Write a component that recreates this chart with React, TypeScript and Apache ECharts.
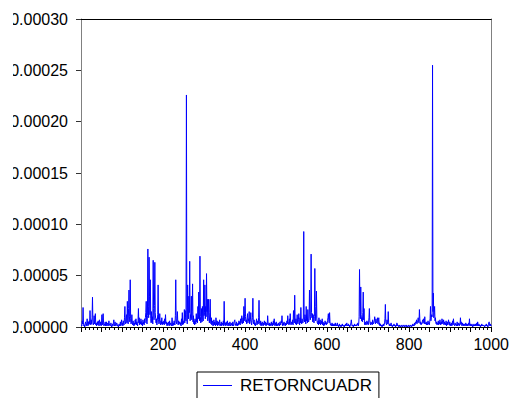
import React, { useEffect, useRef } from "react";
import * as echarts from "echarts";

// Series name and values (squared returns, in units of 1e-6)
const SERIES_NAME = "RETORNCUADR";
const UNIT = 1e-6;

const obs001to200 = [
  2, 1, 6, 3, 19, 4, 1, 2, 0, 3, 5, 2, 1, 4, 8, 3, 1, 5, 2, 6,
  3, 16, 4, 2, 7, 3, 9, 29, 5, 2, 4, 11, 3, 6, 13, 2, 4, 1, 3, 5,
  2, 6, 3, 1, 7, 4, 2, 5, 1, 3, 12, 2, 6, 13, 4, 1, 3, 2, 5, 1,
  2, 5, 1, 3, 4, 1, 2, 6, 3, 3, 1, 2, 4, 1, 0, 2, 3, 1, 4, 7,
  2, 1, 5, 3, 1, 2, 4, 3, 1, 2, 0, 1, 3, 1, 2, 5, 1, 3, 7, 2,
  4, 1, 6, 3, 2, 9, 20, 5, 3, 8, 12, 4, 25, 6, 3, 18, 36, 10, 5, 46,
  8, 3, 5, 12, 4, 2, 6, 3, 1, 4, 2, 7, 3, 8, 2, 5, 3, 1, 6, 18,
  4, 9, 2, 5, 3, 8, 6, 2, 4, 1, 7, 3, 5, 2, 8, 4, 9, 14, 25, 5,
  3, 11, 76, 20, 9, 68, 30, 12, 46, 8, 4, 15, 5, 10, 3, 65, 18, 7, 21, 63,
  14, 8, 4, 8, 2, 6, 12, 41, 7, 3, 5, 13, 4, 2, 6, 3, 9, 2, 5, 4,
];
const obs201to400 = [
  3, 6, 2, 8, 4, 12, 3, 5, 2, 1, 4, 2, 5, 3, 1, 6, 2, 3, 4, 1,
  2, 9, 3, 1, 4, 2, 6, 3, 2, 11, 46, 5, 3, 8, 15, 4, 2, 6, 3, 3,
  5, 2, 4, 1, 8, 3, 14, 2, 6, 3, 5, 17, 4, 16, 9, 6, 226, 12, 3, 41,
  10, 8, 30, 14, 64, 6, 12, 9, 30, 7, 15, 42, 5, 11, 3, 6, 2, 8, 4, 3,
  13, 5, 9, 4, 20, 8, 34, 12, 6, 69, 10, 4, 7, 18, 5, 20, 9, 6, 46, 11,
  14, 41, 8, 20, 10, 52, 15, 27, 6, 11, 27, 8, 4, 14, 27, 5, 3, 9, 2, 6,
  4, 1, 3, 7, 2, 5, 3, 1, 9, 4, 2, 6, 1, 3, 5, 2, 4, 7, 1, 3,
  2, 5, 1, 3, 4, 2, 6, 1, 25, 3, 2, 4, 1, 5, 2, 3, 6, 1, 2, 4,
  1, 3, 5, 2, 1, 4, 2, 3, 1, 5, 2, 1, 4, 6, 7, 2, 3, 1, 5, 2,
  3, 1, 4, 2, 6, 3, 5, 2, 8, 4, 6, 11, 3, 5, 9, 4, 20, 6, 13, 28,
];
const obs401to600 = [
  10, 5, 7, 3, 9, 13, 4, 8, 6, 15, 3, 5, 7, 14, 4, 2, 6, 9, 28, 5,
  3, 7, 2, 4, 1, 3, 5, 8, 2, 4, 6, 3, 9, 26, 5, 3, 2, 6, 1, 4,
  2, 5, 3, 1, 4, 2, 6, 3, 2, 5, 1, 3, 4, 2, 11, 5, 2, 3, 1, 4,
  2, 3, 1, 5, 2, 4, 1, 3, 6, 2, 8, 3, 1, 4, 2, 5, 1, 3, 2, 1,
  4, 2, 3, 1, 5, 3, 2, 6, 4, 11, 3, 1, 4, 2, 5, 3, 2, 1, 4, 3,
  2, 6, 3, 11, 5, 4, 2, 8, 3, 13, 6, 2, 4, 5, 3, 7, 2, 16, 9, 4,
  31, 6, 3, 8, 2, 5, 12, 4, 3, 7, 13, 5, 2, 9, 4, 19, 6, 3, 8, 5,
  4, 7, 93, 10, 5, 12, 8, 3, 20, 6, 9, 4, 17, 6, 5, 8, 36, 12, 7, 10,
  71, 14, 9, 13, 5, 12, 8, 4, 10, 57, 20, 6, 9, 35, 8, 4, 3, 6, 2, 9,
  5, 3, 7, 2, 4, 6, 3, 8, 2, 5, 3, 1, 4, 2, 6, 3, 5, 2, 4, 3,
];
const obs601to800 = [
  6, 9, 13, 7, 4, 14, 5, 2, 3, 1, 2, 4, 1, 3, 2, 1, 3, 1, 2, 4,
  1, 2, 1, 3, 4, 1, 2, 0, 1, 3, 1, 2, 1, 0, 2, 1, 3, 1, 2, 1,
  1, 0, 2, 1, 3, 1, 2, 4, 1, 2, 1, 3, 1, 2, 0, 1, 2, 4, 7, 3,
  1, 2, 1, 0, 2, 1, 3, 1, 2, 1, 2, 1, 3, 2, 4, 1, 3, 10, 56, 20,
  8, 39, 12, 6, 9, 5, 14, 34, 7, 18, 4, 2, 5, 3, 2, 4, 6, 3, 5, 2,
  4, 9, 18, 6, 3, 2, 5, 3, 4, 2, 7, 4, 3, 5, 6, 10, 4, 3, 8, 5,
  4, 6, 9, 3, 7, 9, 2, 4, 1, 3, 1, 2, 1, 0, 2, 1, 3, 1, 2, 4,
  8, 22, 5, 3, 2, 7, 4, 3, 15, 4, 2, 1, 3, 1, 2, 4, 1, 2, 0, 1,
  2, 1, 3, 1, 2, 1, 0, 2, 1, 4, 3, 1, 2, 1, 0, 1, 2, 1, 0, 1,
  1, 2, 0, 1, 1, 2, 1, 0, 1, 2, 1, 1, 0, 2, 1, 1, 0, 1, 2, 1,
];
const obs801to1000 = [
  0, 1, 2, 1, 1, 0, 2, 1, 3, 1, 2, 1, 4, 2, 3, 5, 4, 7, 3, 5,
  6, 9, 5, 4, 17, 8, 3, 5, 2, 4, 3, 5, 7, 4, 8, 6, 3, 10, 5, 3,
  4, 2, 5, 3, 2, 6, 3, 4, 2, 5, 8, 20, 6, 9, 12, 10, 255, 15, 33, 9,
  14, 20, 6, 9, 4, 3, 5, 2, 4, 3, 6, 2, 5, 3, 7, 4, 2, 5, 3, 8,
  6, 3, 4, 7, 2, 5, 3, 4, 2, 6, 1, 3, 5, 2, 4, 7, 3, 2, 5, 1,
  3, 2, 4, 1, 3, 6, 2, 8, 3, 2, 1, 4, 2, 3, 1, 2, 5, 1, 3, 2,
  4, 1, 3, 2, 9, 3, 5, 2, 1, 4, 2, 3, 1, 2, 3, 1, 2, 4, 1, 3,
  2, 1, 3, 2, 4, 1, 8, 2, 3, 1, 2, 1, 3, 1, 0, 2, 1, 3, 1, 2,
  1, 3, 1, 2, 4, 1, 5, 2, 1, 3, 1, 2, 1, 0, 2, 1, 3, 1, 2, 1,
  1, 2, 1, 0, 1, 2, 1, 3, 1, 2, 1, 0, 2, 4, 5, 2, 1, 3, 1, 2,
];

// Axis settings (tick values)
const X_MIN = 0;
const X_MAX = 1000;
const X_TICK_STEP = 50;
const X_LABEL_STEP = 200;
const Y_MIN = 0;
const Y_MAX = 0.0003;
const Y_STEP = 0.00005;

const retorncuadr = [
  ...obs001to200,
  ...obs201to400,
  ...obs401to600,
  ...obs601to800,
  ...obs801to1000,
].map((v) => v * UNIT);

export default function App() {
  const ref = useRef<HTMLDivElement>(null);

  useEffect(() => {
    if (!ref.current) return;
    const chart = echarts.init(ref.current, null, { renderer: "svg" });
    const font = "Arial, 'Liberation Sans', sans-serif";
    chart.setOption({
      animation: false,
      backgroundColor: "#ffffff",
      textStyle: { fontFamily: font },
      grid: { left: 81, right: 19, top: 19, bottom: 71, containLabel: false },
      xAxis: [
        {
          type: "value",
          min: X_MIN,
          max: X_MAX,
          interval: X_TICK_STEP,
          position: "bottom",
          axisLine: { show: true, onZero: false, lineStyle: { color: "#000", width: 1 } },
          axisTick: { show: true, inside: false, length: 5, lineStyle: { color: "#000", width: 1 } },
          minorTick: { show: true, splitNumber: 5, length: 3, lineStyle: { color: "#000", width: 1 } },
          axisLabel: {
            formatter: (v: number) => (v !== 0 && v % X_LABEL_STEP === 0 ? String(v) : ""),
            fontSize: 16,
            color: "#000",
            fontFamily: font,
            margin: 9,
          },
          splitLine: { show: false },
          minorSplitLine: { show: false },
        },
        {
          type: "value",
          min: X_MIN,
          max: X_MAX,
          position: "top",
          axisLine: { show: true, onZero: false, lineStyle: { color: "#000", width: 1 } },
          axisTick: { show: false },
          axisLabel: { show: false },
          splitLine: { show: false },
        },
      ],
      yAxis: [
        {
          type: "value",
          min: Y_MIN,
          max: Y_MAX,
          interval: Y_STEP,
          position: "left",
          axisLine: { show: true, onZero: false, lineStyle: { color: "#808080", width: 1 } },
          axisTick: { show: true, inside: false, length: 5, lineStyle: { color: "#333", width: 1 } },
          axisLabel: {
            formatter: (v: number) => v.toFixed(5),
            fontSize: 16,
            color: "#000",
            fontFamily: font,
            margin: 13,
          },
          splitLine: { show: false },
        },
        {
          type: "value",
          min: Y_MIN,
          max: Y_MAX,
          position: "right",
          axisLine: { show: true, onZero: false, lineStyle: { color: "#808080", width: 1 } },
          axisTick: { show: false },
          axisLabel: { show: false },
          splitLine: { show: false },
        },
      ],
      legend: {
        show: true,
        left: 197,
        top: 372,
        orient: "horizontal",
        padding: [5, 7, 5, 6],
        itemWidth: 29,
        itemHeight: 1,
        icon: "rect",
        borderColor: "#000",
        borderWidth: 1,
        borderRadius: 0,
        textStyle: { fontSize: 17, color: "#000", fontFamily: font, padding: [0, 0, 0, 3] },
        data: [{ name: SERIES_NAME, icon: "rect", itemStyle: { color: "#0000ff" } }],
      },
      graphic: [
        {
          type: "rect",
          left: 0,
          top: 0,
          z: 100,
          shape: { width: 13, height: 340 },
          style: { fill: "#ffffff" },
        },
      ],
      series: [
        {
          name: SERIES_NAME,
          type: "line",
          xAxisIndex: 0,
          yAxisIndex: 0,
          data: retorncuadr.map((v, i) => [i + 1, v]),
          showSymbol: false,
          symbol: "none",
          lineStyle: { color: "#0000ff", width: 1 },
          itemStyle: { color: "#0000ff" },
        },
      ],
    });
    return () => chart.dispose();
  }, []);

  return (
    <div
      ref={ref}
      style={{ position: "fixed", left: 0, top: 0, width: 512, height: 398, background: "#fff" }}
    />
  );
}
